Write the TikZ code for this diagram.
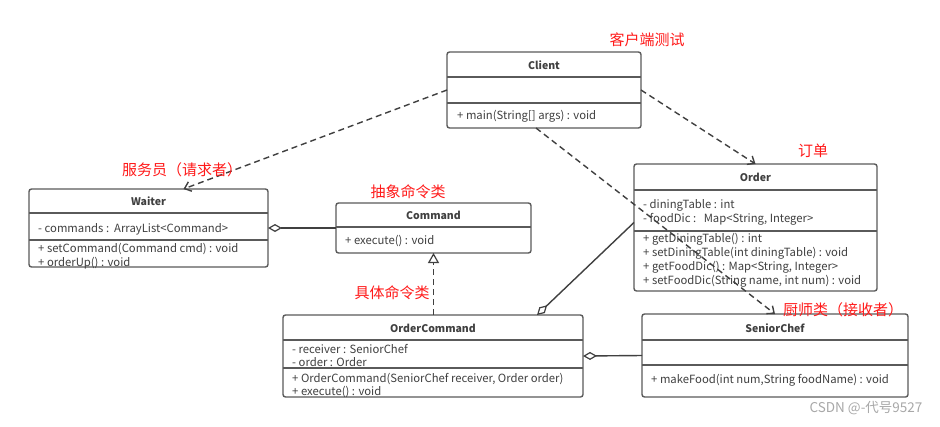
\documentclass[tikz,border=0pt]{standalone}
\usepackage{fontspec}
\setmainfont{Noto Sans CJK SC}
\usetikzlibrary{arrows.meta,calc}
\definecolor{bordc}{HTML}{5A5A5A}
\definecolor{linec}{HTML}{404040}
\definecolor{txtc}{HTML}{404040}
\definecolor{redc}{HTML}{FF1A1A}
\definecolor{wmc}{HTML}{A8A8A8}
\tikzset{
  umlbox/.style={draw=bordc, line width=1.4pt, rounded corners=2.5pt, fill=white, inner sep=0pt, outer sep=0pt, anchor=north west},
  divline/.style={draw=bordc, line width=1.2pt},
  ctitle/.style={font=\fontsize{10.5}{12}\selectfont\bfseries, text=txtc, inner sep=0pt},
  member/.style={font=\fontsize{11.3}{13}\selectfont, text=txtc, inner sep=0pt, anchor=west},
  redlabel/.style={font=\fontsize{15}{17}\selectfont, text=redc, inner sep=0pt},
  depend/.style={draw=linec, line width=1.4pt, dash pattern=on 6pt off 4pt, -{Straight Barb[length=6pt,width=10pt,line width=1.4pt]}},
  realize/.style={draw=linec, line width=1.4pt, dash pattern=on 6pt off 4pt, -{Triangle[open,length=10pt,width=11pt,line width=1.2pt]}},
  aggr/.style={draw=linec, line width=1.4pt, {Diamond[open,length=14pt,width=8pt,line width=1.2pt]}-},
}
\begin{document}
\begin{tikzpicture}[x=1pt,y=-1pt]
\useasboundingbox (0,0) rectangle (940,426);
\fill[white] (0,0) rectangle (940,426);

% Client
\node[umlbox, minimum width=194pt, minimum height=76pt] (client) at (447,52) {};
\draw[divline] (447,77) -- (641,77);
\draw[divline] (447,103) -- (641,103);
\node[ctitle] (clientt) at (544,65) {Client};
\node[member] (clientm) at (457,116) {+ main(String[] args) : void};

% Waiter
\node[umlbox, minimum width=239pt, minimum height=78pt] (waiter) at (29,189) {};
\draw[divline] (29,213) -- (268,213);
\draw[divline] (29,240) -- (268,240);
\node[ctitle] (waitert) at (148.5,201) {Waiter};
\node[member] (waitera) at (38,229) {- commands :\ \ ArrayList<Command>};
\node[member] (waiterm1) at (38,249) {+ setCommand(Command cmd) : void};
\node[member] (waiterm2) at (38,263) {+ orderUp() : void};

% Command
\node[umlbox, minimum width=195pt, minimum height=50pt] (command) at (336,203) {};
\draw[divline] (336,227) -- (531,227);
\node[ctitle] (commandt) at (433.5,215) {Command};
\node[member] (commandm) at (345,241) {+ execute() : void};

% Order
\node[umlbox, minimum width=243pt, minimum height=127pt] (order) at (634,164) {};
\draw[divline] (634,190) -- (877,190);
\draw[divline] (634,231) -- (877,231);
\node[ctitle] (ordert) at (755.5,177) {Order};
\node[member] (ordera1) at (643,205) {- diningTable : int};
\node[member] (ordera2) at (643,219) {- foodDic :\ \ \ Map<String, Integer>};
\node[member] (orderm1) at (643,239) {+ getDiningTable() : int};
\node[member] (orderm2) at (643,253) {+ setDiningTable(int diningTable) : void};
\node[member] (orderm3) at (643,267) {+ getFoodDic() : Map<String, Integer>};
\node[member] (orderm4) at (643,281) {+ setFoodDic(String name, int num) : void};

% OrderCommand
\node[umlbox, minimum width=300pt, minimum height=82pt] (ocmd) at (283,315) {};
\draw[divline] (283,340) -- (583,340);
\draw[divline] (283,368) -- (583,368);
\node[ctitle] (ocmdt) at (433,328) {OrderCommand};
\node[member] (ocmda1) at (292,349) {- receiver : SeniorChef};
\node[member] (ocmda2) at (292,362) {- order : Order};
\node[member] (ocmdm1) at (292,379) {+ OrderCommand(SeniorChef receiver, Order order)};
\node[member] (ocmdm2) at (292,392) {+ execute() : void};

% SeniorChef
\node[umlbox, minimum width=266pt, minimum height=83pt] (chef) at (642,314) {};
\draw[divline] (642,340) -- (908,340);
\draw[divline] (642,365) -- (908,365);
\node[ctitle] (cheft) at (775,328) {SeniorChef};
\node[member] (chefm) at (651,380) {+ makeFood(int num,String foodName) : void};

% connectors
\draw[depend] (client.west) -- ($(waiter.north)+(35,0)$);
\draw[depend] (client.east) -- (order.north);
\draw[depend] ($(client.south)+(-8,0)$) -- (chef.north);
\draw[aggr] (waiter.east) -- (command.west);
\draw[realize] (ocmd.north -| command.south) -- (command.south);
\draw[aggr] ($(ocmd.north)+(104,0)$) -- ($(order.west)+(0,-5)$);
\draw[aggr] (ocmd.east) -- (chef.west);

% labels
\node[redlabel] (lclient) at (647,40) {客户端测试};
\node[redlabel] (lwaiter) at (182,170) {服务员（请求者）};
\node[redlabel] (lcommand) at (408,192) {抽象命令类};
\node[redlabel] (lorder) at (813,151) {订单};
\node[redlabel] (locmd) at (392,293) {具体命令类};
\node[redlabel] (lchef) at (843,310) {厨师类（接收者）};
\node[font=\fontsize{13.5}{15}\selectfont, text=wmc, inner sep=0pt] (wm) at (866,408) {CSDN @-代号9527};
\end{tikzpicture}
\end{document}
